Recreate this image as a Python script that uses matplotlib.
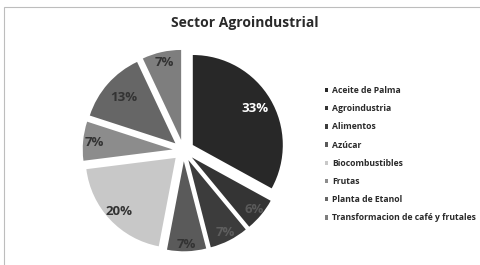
import matplotlib
matplotlib.use("Agg")
import matplotlib.pyplot as plt
import numpy as np
from matplotlib.patches import Rectangle

categories = ["Aceite de Palma", "Agroindustria", "Alimentos", "Azúcar",
              "Biocombustibles", "Frutas", "Planta de Etanol",
              "Transformacion de café y frutales"]
values = [33, 6, 7, 7, 20, 7, 13, 7]
colors = ["#282828", "#343434", "#3c3c3c", "#5a5a5a",
          "#c8c8c8", "#8c8c8c", "#666666", "#7e7e7e"]
label_colors = ["white", "#5a5a5a", "#5e5e5e", "#333333",
                "#333333", "#333333", "#333333", "#333333"]
# radial position of each percentage label (fraction of radius)
label_dist = [0.8, 0.9, 0.9, 0.92, 0.87, 0.88, 0.77, 0.88]
title = "Sector Agroindustrial"

plt.rcParams['font.family'] = ['Open Sans', 'DejaVu Sans']

W, H = 480, 265
fig = plt.figure(figsize=(W / 100, H / 100), dpi=100)
fig.patch.set_facecolor("white")

# chart border
fig.add_artist(Rectangle((4 / W, -0.01), (W - 3) / W, 1 - 7 / H + 0.01,
                         transform=fig.transFigure, fill=False,
                         edgecolor="#bdbdbd", linewidth=0.8))

cx, cy, r = 183.5, 150.5, 90
s = 2.6 * r
ax = fig.add_axes([(cx - s / 2) / W, (H - cy - s / 2) / H, s / W, s / H])
explode = [0.12] * len(values)
wedges, texts, autotexts = ax.pie(values, colors=colors, startangle=90,
                                  counterclock=False, explode=explode,
                                  autopct="%1.0f%%", pctdistance=0.8,
                                  wedgeprops=dict(linewidth=0))
for w, t, d, c in zip(wedges, autotexts, label_dist, label_colors):
    ang = np.deg2rad((w.theta1 + w.theta2) / 2)
    ccx, ccy = w.center
    t.set_position((ccx + d * np.cos(ang), ccy + d * np.sin(ang)))
    t.set_color(c)
    t.set_fontsize(9.5)
    t.set_fontweight("bold")
ax.set_xlim(-1.3, 1.3)
ax.set_ylim(-1.3, 1.3)
ax.axis("off")

fig.text(245 / W, 1 - 23.5 / H, title, ha="center", va="center",
         fontsize=10, fontweight="bold", color="#2a2a2a")

leg = fig.legend(wedges, categories, loc="upper left",
                 bbox_to_anchor=(325 / W, 1 - 86 / H), frameon=False,
                 prop=dict(size=6.2, weight="bold"), handlelength=0.4,
                 handleheight=0.4, handletextpad=0.45, labelspacing=1.07,
                 borderaxespad=0, borderpad=0)
for txt in leg.get_texts():
    txt.set_color("#2a2a2a")

fig.savefig("out.png", dpi=100, facecolor="white")
